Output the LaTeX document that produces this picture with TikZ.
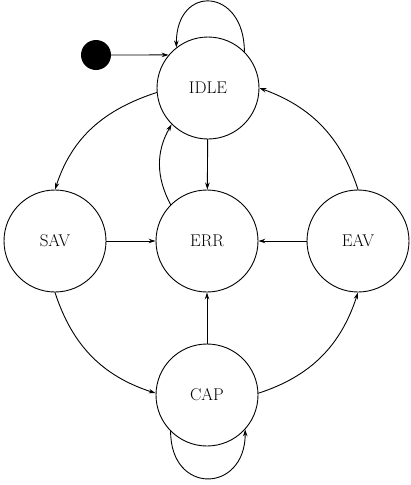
\documentclass[tikz,border=0pt]{standalone}
\usetikzlibrary{arrows.meta}
\begin{document}
\begin{tikzpicture}[x=1pt,y=-1pt,
  state/.style={circle,draw,line width=0.9pt,minimum size=102pt,inner sep=0pt,font=\fontsize{17}{17}\selectfont},
  edge/.style={line width=0.9pt,-{Stealth[length=7pt,width=4.5pt]}},
  every path/.style={line cap=round}]
\useasboundingbox (0,0) rectangle (410,485);
\node[state] (IDLE) at (208,88) {IDLE};
\node[state] (ERR) at (207,241) {ERR};
\node[state] (SAV) at (55,241) {SAV};
\node[state] (EAV) at (358,241) {EAV};
\node[state] (CAP) at (207,395) {CAP};
\node[circle,fill=black,minimum size=30pt,inner sep=0pt] (start) at (96,55) {};
\draw[edge] (start) -- (IDLE.140);
\draw[edge] (IDLE.45) .. controls +(0,-64) and +(0,-64) .. (IDLE.128);
\draw[edge] (CAP.225) .. controls +(0,64) and +(0,64) .. (CAP.318);
\draw[edge] (IDLE.185) to[out=198,in=72] (SAV.90);
\draw[edge] (SAV.270) to[out=288,in=162] (CAP.178);
\draw[edge] (CAP.2) to[out=18,in=252] (EAV.270);
\draw[edge] (EAV.90) to[out=108,in=340] (IDLE.0);
\draw[edge] (IDLE) -- (ERR);
\draw[edge] (SAV) -- (ERR);
\draw[edge] (EAV) -- (ERR);
\draw[edge] (CAP) -- (ERR);
\draw[edge] (ERR.135) to[out=118,in=240] (IDLE.225);
\end{tikzpicture}
\end{document}
